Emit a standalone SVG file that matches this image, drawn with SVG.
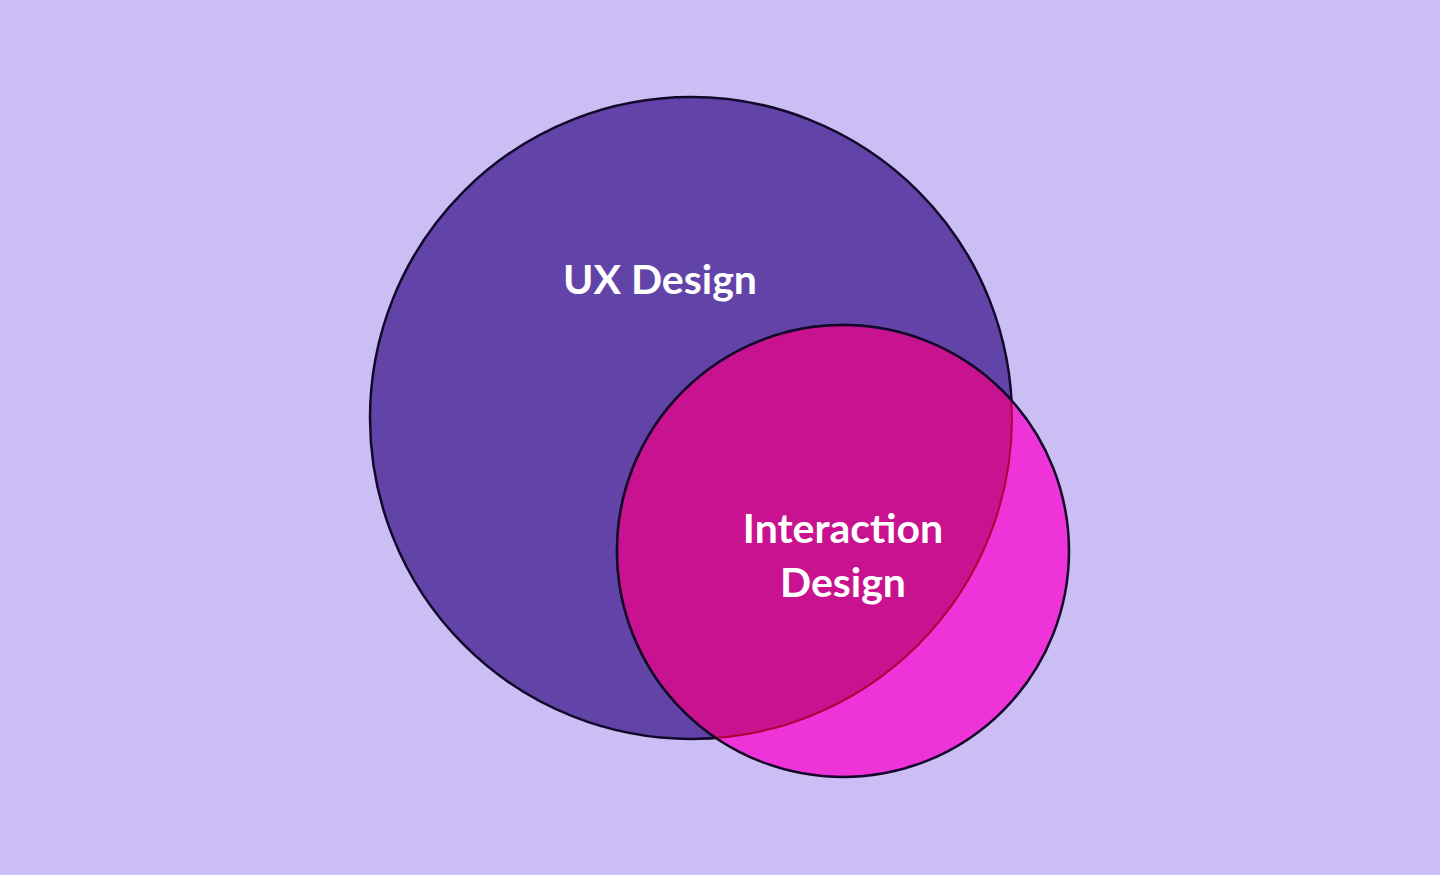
<svg xmlns="http://www.w3.org/2000/svg" width="1440" height="875" viewBox="0 0 1440 875">
<style>
.lbl{font-family:Lato,"Liberation Sans",sans-serif;font-weight:700;font-size:41px;fill:#fff;text-anchor:middle}
</style>
<defs><clipPath id="cb"><circle cx="691" cy="418" r="321"/></clipPath></defs>
<rect width="1440" height="875" fill="#CBBEF4"/>
<g id="ux"><circle cx="691" cy="418" r="321" fill="#6244A8" stroke="#14082a" stroke-width="2.5"/></g>
<g id="ixd">
<circle cx="843" cy="551" r="226" fill="#EE33D8" stroke="#14082a" stroke-width="2.5"/>
<circle cx="843" cy="551" r="226" fill="#C8128F" clip-path="url(#cb)"/>
<circle cx="691" cy="418" r="321" fill="none" stroke="#B0003A" stroke-width="2" clip-path="url(#cs)"/>
<path d="M1013 401" fill="none"/>
</g>
<defs><clipPath id="cs"><circle cx="843" cy="551" r="225"/></clipPath></defs>
<g id="ixd-outline"><circle cx="843" cy="551" r="226" fill="none" stroke="#14082a" stroke-width="2.5" clip-path="url(#cb)"/></g>
<g id="labels">
<text class="lbl" x="660" y="294">UX Design</text>
<text class="lbl" x="843" y="543">Interaction</text>
<text class="lbl" x="843" y="597">Design</text>
</g>
<g id="connectors"/>
</svg>
